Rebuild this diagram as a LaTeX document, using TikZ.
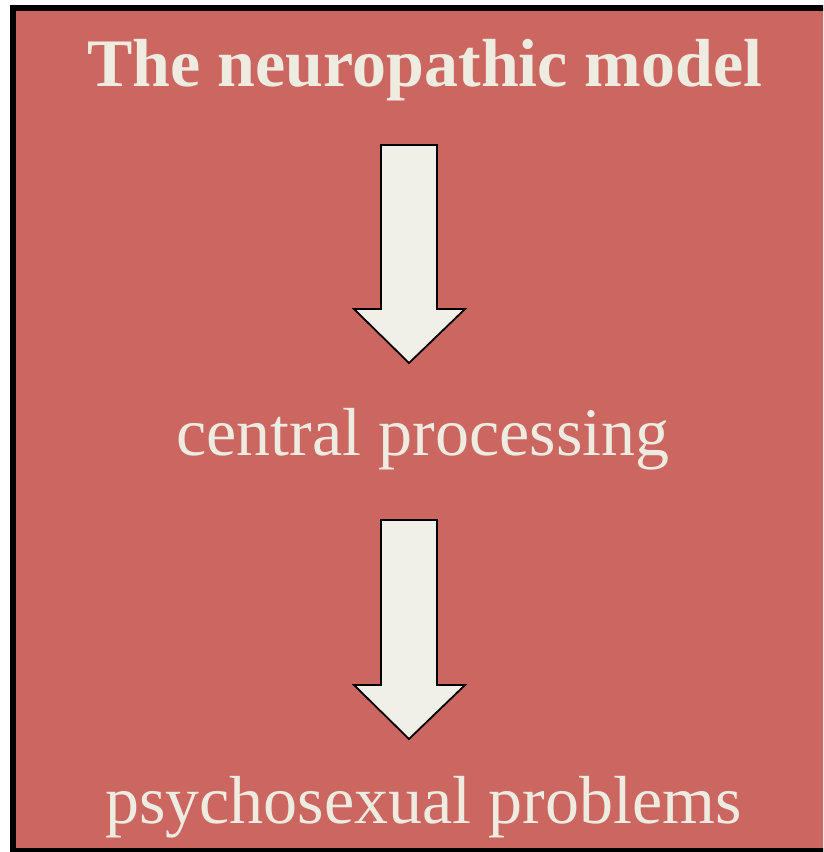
\documentclass[tikz,border=0pt]{standalone}
\usepackage{fontspec}
\setmainfont{Liberation Serif}
\definecolor{bgred}{HTML}{CC6660}
\definecolor{cream}{HTML}{EEEBE0}
\definecolor{arrowfill}{HTML}{F0F0E8}
\begin{document}
\begin{tikzpicture}[x=1pt,y=-1pt,
  label/.style={text=cream,font=\fontsize{68}{80}\selectfont,anchor=base,inner sep=0pt},
  blockarrow/.style={fill=arrowfill,draw=black,line width=1.8pt,line join=miter}]
\useasboundingbox (0,0) rectangle (823,852);
\clip (0,0) rectangle (823,852);
\draw[fill=bgred,line width=6pt] (13,8) rectangle (900,851);
\node[label,font=\fontsize{68}{80}\selectfont\bfseries] (title) at (425,86) {The neuropathic model};
\node[label] (central) at (423,455) {central processing};
\node[label] (psycho) at (423.5,823) {psychosexual problems};
\draw[blockarrow] (381,145) -- (437,145) -- (437,309) -- (465,309) -- (409,363) -- (354,309) -- (381,309) -- cycle;
\draw[blockarrow] (381,520) -- (437,520) -- (437,685) -- (465,685) -- (409,739) -- (354,685) -- (381,685) -- cycle;
\end{tikzpicture}
\end{document}
